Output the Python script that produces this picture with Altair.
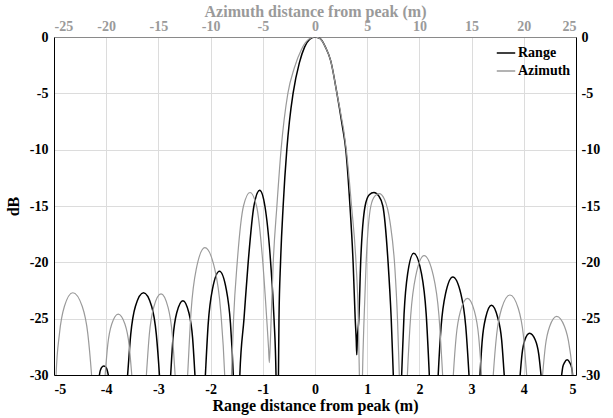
import altair as alt
import pandas as pd

# Range cut (bottom axis, m) and its level in dB
range_x = [-4.2, -4.13, -4.09, -4.045, -4.0, -3.96, -3.78,
           -3.59, -3.53, -3.44, -3.285, -3.13, -3.04, -2.98, -2.87,
           -2.765, -2.72, -2.65, -2.53, -2.415, -2.345, -2.30, -2.20,
           -2.10, -2.045, -1.965, -1.83, -1.70, -1.62, -1.565, -1.50,
           -1.44, -1.36, -1.28, -1.17, -1.06, -0.96, -0.85, -0.785, -0.747, -0.725,
           -0.70, -0.69, -0.66, -0.61, -0.54, -0.49, -0.42, -0.3, -0.2, -0.1, 0.0,
           0.1, 0.2, 0.3, 0.42, 0.52, 0.59, 0.67, 0.73, 0.77, 0.79, 0.80, 0.81,
           0.84, 0.875, 0.96, 1.04, 1.13, 1.22, 1.30, 1.40, 1.46, 1.50, 1.58,
           1.66, 1.706, 1.775, 1.89, 2.04, 2.13, 2.19, 2.275,
           2.36, 2.416, 2.50, 2.64, 2.795, 2.888, 2.95, 3.055,
           3.16, 3.204, 3.27, 3.38, 3.50, 3.576, 3.625, 3.78,
           3.93, 3.966, 4.02, 4.11, 4.22, 4.286, 4.33, 4.53,
           4.725, 4.746, 4.78, 4.83, 4.88, 4.914, 4.935, 4.99]
range_db = [-40, -30, -29.35, -29.2, -29.35, -30, -40,
            -30, -26.4, -23.9, -22.7, -23.9, -26.4, -30, -40,
            -30, -26.7, -24.5, -23.4, -24.5, -26.7, -30, -40,
            -30, -25.4, -22.4, -20.8, -22.4, -25.4, -30, -40,
            -30, -25, -20, -15, -13.6, -15, -20, -25, -30, -40,
            -30, -25, -20, -15, -10, -7.5, -5, -2.3, -0.9, -0.2, 0.0,
            -0.15, -0.9, -2.1, -5, -7.8, -10, -15, -20, -25, -26.9, -28.2, -26.9,
            -25, -20, -15, -14.0, -13.8, -14.1, -15, -20, -25, -30, -40,
            -30, -24.6, -21.0, -19.2, -21.0, -24.6, -30, -40,
            -30, -25.7, -22.8, -21.3, -22.8, -25.7, -30, -40,
            -30, -26.9, -24.9, -23.8, -24.9, -26.9, -30, -40,
            -30, -28.15, -26.9, -26.3, -26.9, -28.15, -30, -40,
            -30, -29.3, -28.9, -28.65, -28.9, -29.3, -30, -40]

# Azimuth cut (top axis, m) and its level in dB
az_x = [-25.0, -24.8, -24.48, -24.0, -23.2, -22.3, -21.76, -21.4, -20.75,
        -20.1, -19.85, -19.475, -18.85, -18.2, -17.81, -17.55, -16.85,
        -16.15, -15.87, -15.45, -14.75, -14.075, -13.67, -13.4, -12.8,
        -12.2, -11.87, -11.375, -10.55, -9.6, -9.03, -8.65, -8.325,
        -8.0, -7.8, -7.45, -6.85, -6.225, -5.6, -5.0, -4.625, -4.45, -4.375, -4.3,
        -4.2, -4.0, -3.65, -3.25, -2.6, -2.0, -1.3, -0.6, 0.0,
        0.5, 1.0, 1.5, 2.1, 3.0, 3.5, 3.925, 4.15, 4.25, 4.4,
        4.55, 4.7, 4.9, 5.35, 5.75, 6.15, 6.65, 7.2, 7.65, 7.9, 8.075, 8.45,
        8.85, 9.17, 9.65, 10.45, 11.34, 11.87, 12.225, 12.75,
        13.25, 13.52, 13.925, 14.6, 15.275, 15.68, 15.95, 16.5,
        17.075, 17.395, 17.875, 18.675, 19.475, 19.955, 20.275, 21.05,
        21.8, 22.07, 22.475, 23.15, 23.9, 24.35, 24.65, 25.0]
az_db = [-40, -30, -26.35, -23.9, -22.7, -23.9, -26.35, -30, -40,
         -30, -27.3, -25.5, -24.6, -25.5, -27.3, -30, -40,
         -30, -26.4, -24.0, -22.8, -24.0, -26.4, -30, -40,
         -30, -24.35, -20.6, -18.7, -20.6, -24.35, -30, -40,
         -30, -25, -20, -15, -13.8, -15, -20, -25, -27.6, -28.9, -27.6,
         -25, -20, -15, -10, -5, -2.8, -1.1, -0.2, 0.0,
         -0.15, -0.9, -2.1, -5, -10, -15, -20, -25, -30, -40,
         -30, -25, -20, -15, -14.1, -13.9, -14.4, -16.5, -20.5, -25, -30, -40,
         -30, -24.7, -21.2, -19.4, -21.2, -24.7, -30, -40,
         -30, -26.6, -24.35, -23.2, -24.35, -26.6, -30, -40,
         -30, -26.45, -24.1, -22.9, -24.1, -26.45, -30, -40,
         -30, -27.4, -25.7, -24.8, -25.7, -27.4, -30, -40]

series_names = ["Range", "Azimuth"]
series_colors = ["#000000", "#9a9a9a"]
range_ticks = [-5, -4, -3, -2, -1, 0, 1, 2, 3, 4, 5]
az_ticks = [-25, -20, -15, -10, -5, 0, 5, 10, 15, 20, 25]
db_ticks = [-30, -25, -20, -15, -10, -5, 0]

df_r = pd.DataFrame({"x": range_x, "db": range_db, "series": "Range"})
df_a = pd.DataFrame({"x": az_x, "db": az_db, "series": "Azimuth"})

FONT = "Liberation Serif"
GRID = "#dcdcdc"
LBL = "'' + datum.value"

color = alt.Color(
    "series:N",
    scale=alt.Scale(domain=series_names, range=series_colors),
    legend=alt.Legend(
        title=None, orient="none", legendX=442, legendY=6, padding=0,
        symbolType="stroke", symbolSize=340, symbolStrokeWidth=1.5,
        labelFont=FONT, labelFontSize=14, labelFontWeight="bold",
        labelColor="#000000", rowPadding=1, labelOffset=2,
    ),
)

black = alt.Chart(df_r).mark_line(interpolate="monotone", clip=True, strokeWidth=1.5).encode(
    x=alt.X("x:Q", scale=alt.Scale(domain=[-5, 5], nice=False, zero=False),
            axis=alt.Axis(orient="bottom", values=range_ticks, labelExpr=LBL,
                          title="Range distance from peak (m)",
                          grid=True, gridColor=GRID, ticks=False,
                          domainColor="#000000", labelPadding=7,
                          labelFont=FONT, labelFontSize=14, labelFontWeight="bold",
                          labelColor="#000000", titleFont=FONT, titleFontSize=16,
                          titleFontWeight="bold", titleColor="#000000", titlePadding=1)),
    y=alt.Y("db:Q", scale=alt.Scale(domain=[-30, 0], nice=False, zero=False),
            axis=alt.Axis(orient="left", values=db_ticks, labelExpr=LBL, title="dB",
                          grid=True, gridColor=GRID, ticks=False,
                          domainColor="#000000", labelPadding=6,
                          labelFont=FONT, labelFontSize=14, labelFontWeight="bold",
                          labelColor="#000000", titleFont=FONT, titleFontSize=16,
                          titleFontWeight="bold", titleColor="#000000", titlePadding=8)),
    color=color,
)

gray = alt.Chart(df_a).mark_line(interpolate="monotone", clip=True, strokeWidth=1.2).encode(
    x=alt.X("x:Q", scale=alt.Scale(domain=[-25, 25], nice=False, zero=False),
            axis=alt.Axis(orient="top", values=az_ticks, labelExpr=LBL,
                          title="Azimuth distance from peak (m)",
                          grid=False, ticks=False, domainColor="#8a8a8a",
                          labelPadding=4, labelFont=FONT, labelFontSize=14,
                          labelFontWeight="bold", labelColor="#9a9a9a",
                          titleFont=FONT, titleFontSize=16, titleFontWeight="bold",
                          titleColor="#9a9a9a", titlePadding=0)),
    y=alt.Y("db:Q", scale=alt.Scale(domain=[-30, 0], nice=False, zero=False),
            axis=alt.Axis(orient="right", values=db_ticks, labelExpr=LBL, title=None,
                          grid=False, ticks=False, domainColor="#000000",
                          labelPadding=5, labelFont=FONT, labelFontSize=14,
                          labelFontWeight="bold", labelColor="#000000")),
    color=color,
)

chart = alt.layer(black, gray).resolve_scale(
    x="independent", y="independent"
).properties(
    width=522, height=338,
    autosize=alt.AutoSizeParams(type="none"),
    padding={"left": 54, "top": 37, "right": 37, "bottom": 43},
).configure_view(stroke=None).configure(background="white")

chart.save("out.html", embed_options={"renderer": "svg", "actions": False})
